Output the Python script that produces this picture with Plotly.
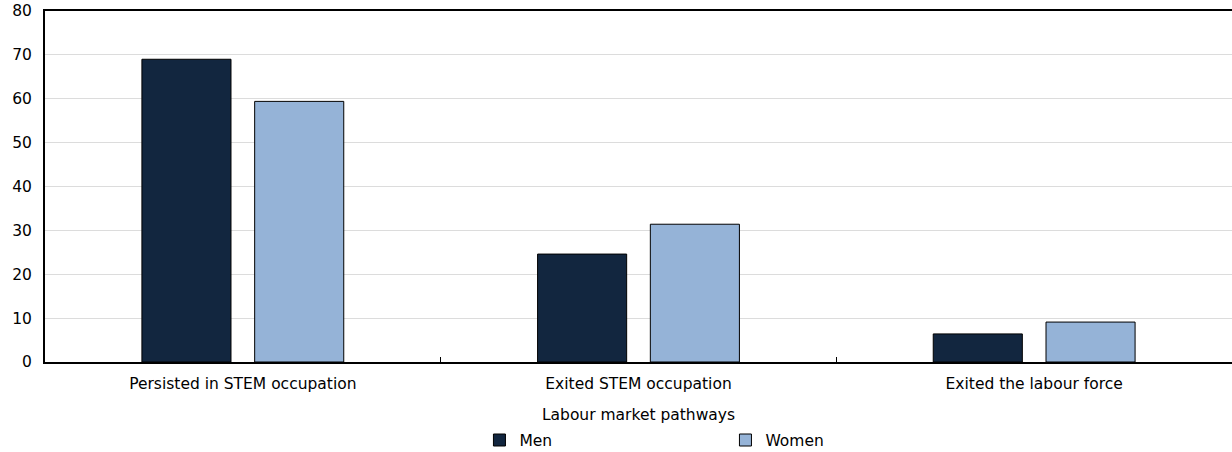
import plotly.graph_objects as go

categories = ["Persisted in STEM occupation", "Exited STEM occupation", "Exited the labour force"]
men = [69.0, 24.6, 6.4]
women = [59.4, 31.4, 9.1]
y_ticks = [0, 10, 20, 30, 40, 50, 60, 70, 80]

FONT = "Verdana, DejaVu Sans, sans-serif"
FS = 15.5

fig = go.Figure()
fig.add_trace(go.Bar(name="Men", x=categories, y=men, marker=dict(color="#12263f", line=dict(color="#000000", width=1))))
fig.add_trace(go.Bar(name="Women", x=categories, y=women, marker=dict(color="#95b3d7", line=dict(color="#000000", width=1))))

fig.update_layout(
    width=1232, height=452,
    margin=dict(l=45, r=0, t=11, b=90, autoexpand=False),
    paper_bgcolor="white", plot_bgcolor="white",
    barmode="group", bargap=0.43, bargroupgap=0.21,
    font=dict(family=FONT, size=FS, color="#000000"),
    showlegend=True,
    legend=dict(orientation="h", x=0.366, xanchor="left", y=-0.175, yanchor="top",
                entrywidth=201, entrywidthmode="pixels", font=dict(size=FS),
                itemwidth=30, traceorder="normal", tracegroupgap=0),
    xaxis=dict(
        title=dict(text="Labour market pathways", standoff=18, font=dict(size=FS)),
        showline=True, linecolor="#000000", linewidth=2, mirror=True,
        ticks="inside", tickson="boundaries", ticklen=5, tickcolor="#000000",
        tickfont=dict(size=FS), showgrid=False, automargin=False,
        ticklabelstandoff=6,
    ),
    yaxis=dict(
        range=[0, 80], tickvals=y_ticks, showline=True, linecolor="#000000", linewidth=2,
        gridcolor="#dcdcdc", gridwidth=1, tickfont=dict(size=FS), zeroline=False,
        ticks="", ticklabelstandoff=8, automargin=False,
    ),
)

fig.write_html("out.html", config={"displayModeBar": False},
               post_script="document.body.style.margin='0';document.body.style.overflow='hidden';")
